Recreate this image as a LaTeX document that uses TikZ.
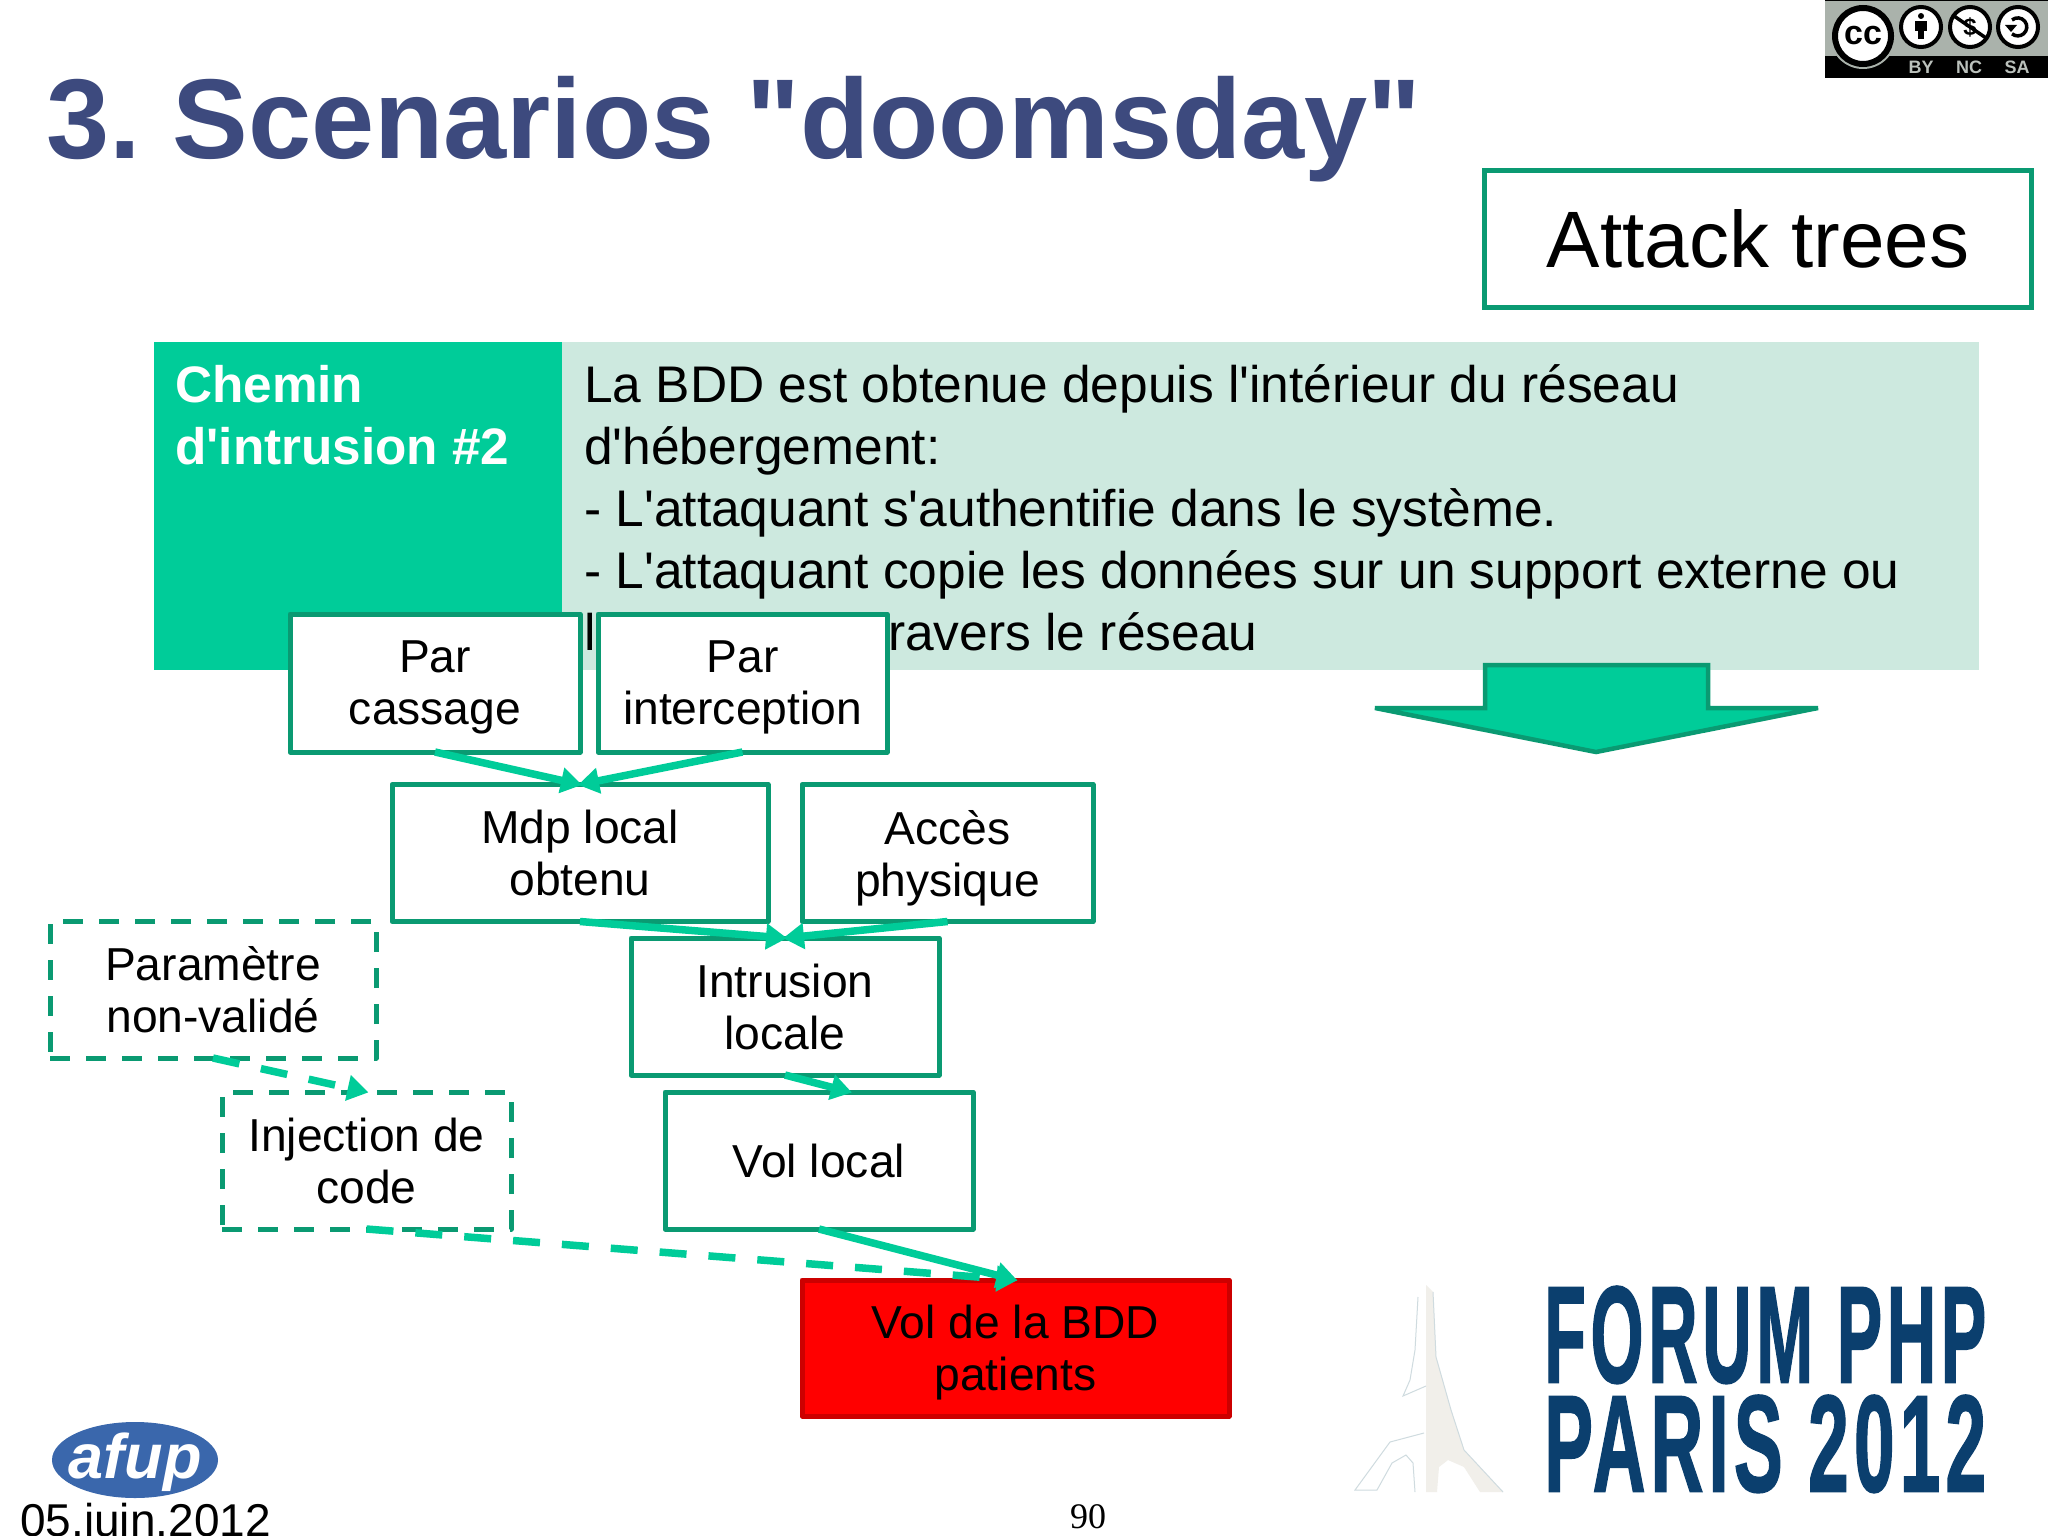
\documentclass[tikz,border=0pt]{standalone}
\usepackage{fontspec}
\usetikzlibrary{arrows.meta}
\setmainfont{Liberation Sans}
\newfontfamily\plainsans{Liberation Sans}
\newfontfamily\serifnum{Liberation Serif}
\newfontfamily\forumfont[BoldFeatures={FakeBold=1.5,LetterSpace=7}]{Liberation Sans}
\definecolor{titleblue}{HTML}{3D4A7E}
\definecolor{boxgreen}{HTML}{0A9A72}
\definecolor{arrowgreen}{HTML}{00CC99}
\definecolor{headgreen}{HTML}{00CC99}
\definecolor{palegreen}{HTML}{CDE9DF}
\definecolor{forumblue}{HTML}{0B3F6E}
\definecolor{towerfill}{HTML}{F1EFEA}
\definecolor{towerline}{HTML}{CFDBDF}
\definecolor{afupblue}{HTML}{3A67AC}
\definecolor{ccgrey}{HTML}{AAB2AB}
\tikzset{
  x=1pt,y=-1pt,
  treebox/.style={draw=boxgreen,line width=5pt,fill=white,outer sep=0pt,inner sep=0pt,align=center,
    font=\plainsans\fontsize{46.2}{52}\selectfont,line join=round},
  dashbox/.style={treebox,dash pattern=on 20pt off 16pt,fill=none},
  link/.style={draw=arrowgreen,line width=7.5pt,-{Triangle[length=21pt,width=25pt]},shorten >=-2pt},
  dashlink/.style={link,dash pattern=on 27pt off 22pt},
  tableline/.style={anchor=base west,inner sep=0pt,font=\plainsans\fontsize{51.5}{62}\selectfont},
  headline/.style={tableline,text=white,font=\plainsans\fontsize{51.3}{62}\selectfont\bfseries},
  ccring/.style={circle,draw=black,line width=4pt,fill=white,inner sep=0pt,outer sep=0pt},
  cclabel/.style={text=ccgrey!80!white,inner sep=0pt,font=\plainsans\fontsize{18}{18}\selectfont\bfseries},
}
\begin{document}
\frenchspacing
\begin{tikzpicture}
\useasboundingbox (0,0) rectangle (2048,1536);
\clip (0,0) rectangle (2048,1536);
\fill[white] (0,0) rectangle (2048,1536);

% title
\node[anchor=base west,inner sep=0pt,text=titleblue,font=\plainsans\fontsize{113.5}{114}\selectfont\bfseries] (title) at (46,159) {3. Scenarios "doomsday"};

% CC badge
\fill[ccgrey] (1825,0) rectangle (2048,56);
\fill[black] (1825,56) rectangle (2048,78);
\draw[black,line width=2pt] (1825,0) -- (2048,0);
\fill[ccgrey] (1863,36) circle (33);
\node[ccring,minimum size=56pt,line width=6pt,font=\plainsans\fontsize{34}{34}\selectfont\bfseries] (cc) at (1863,36) {cc};
\node[ccring,minimum size=40pt] (by) at (1921,27) {};
\fill[black] (1921,16) circle (3);
\fill[black] (1915,21) rectangle (1927,31);
\fill[black] (1918,31) rectangle (1924,39);
\node[ccring,minimum size=40pt,font=\plainsans\fontsize{24}{24}\selectfont\bfseries] (nc) at (1970,27) {\$};
\draw[black,line width=3.5pt] (1954,16) -- (1986,38);
\node[ccring,minimum size=40pt] (sa) at (2018,27) {};
\draw[black,line width=3.5pt] (2012,20) arc (-130:130:9);
\fill[black] (2005,25) -- (2017,25) -- (2011,32) -- cycle;
\node[cclabel] (bylab) at (1921,67) {BY};
\node[cclabel] (nclab) at (1969,67) {NC};
\node[cclabel] (salab) at (2017,67) {SA};

% attack trees
\node[draw=boxgreen,line width=5pt,outer sep=0pt,inner sep=0pt,minimum width=547pt,minimum height=137pt,font=\plainsans\fontsize{80}{80}\selectfont] (attack) at (1758,239) {Attack trees};

% table
\fill[headgreen] (154,342) rectangle (562,670);
\fill[palegreen] (562,342) rectangle (1979,670);
\node[headline] (h1) at (175,402) {Chemin};
\node[headline] (h2) at (175,464) {d'intrusion \#2};
\node[tableline] (t1) at (584,402) {La BDD est obtenue depuis l'intérieur du réseau};
\node[tableline] (t2) at (584,464) {d'hébergement:};
\node[tableline] (t3) at (584,526) {- L'attaquant s'authentifie dans le système.};
\node[tableline] (t4) at (584,588) {- L'attaquant copie les données sur un support externe ou};
\node[tableline] (t5a) at (584,650) {l};
\node[tableline] (t5b) at (888,650) {ravers le réseau};

% big arrow
\draw[draw=boxgreen,fill=arrowgreen,line width=4.5pt,line join=miter]
  (1485,665) -- (1708,665) -- (1708,708) -- (1818,708) -- (1596,752) -- (1375,708) -- (1485,708) -- cycle;

% tree boxes
\node[treebox,minimum width=290pt,minimum height=138pt] (cassage) at (435,683) {Par\\\smash{cassage}};
\node[treebox,minimum width=289pt,minimum height=138pt] (intercept) at (742.5,683) {Par\\\smash{interception}};
\node[treebox,minimum width=376pt,minimum height=137pt] (mdp) at (580,853) {Mdp local\\obtenu};
\node[treebox,minimum width=291pt,minimum height=137pt] (acces) at (947.5,853) {Accès\\\smash{physique}};
\node[treebox,minimum width=308pt,minimum height=137pt] (intrusion) at (785,1006.5) {Intrusion\\locale};
\node[treebox,minimum width=308pt,minimum height=137pt] (vol) at (819,1160.5) {Vol local};
\node[dashbox,minimum width=326pt,minimum height=137pt] (param) at (213,989.5) {Paramètre\\non-validé};
\node[dashbox,minimum width=289pt,minimum height=137pt] (inject) at (366.5,1160.5) {Injection de\\code};
\node[treebox,draw=red!80!black,fill=red,minimum width=427pt,minimum height=136pt] (bdd) at (1015.5,1348) {Vol de la BDD\\\smash{patients}};
\coordinate (volin) at (850,1092);

% connectors
\draw[link] (cassage.south) -- (mdp.north);
\draw[link] (intercept.south) -- (mdp.north);
\draw[link] (mdp.south) -- (intrusion.north);
\draw[link] (acces.south) -- (intrusion.north);
\draw[link] (intrusion.south) -- (volin);
\draw[link] (vol.south) -- (bdd.north);
\draw[dashlink] (param.south) -- (inject.north);
\draw[dashlink] (inject.south) -- (bdd.north);

% afup logo
\fill[afupblue] (135,1460) ellipse [x radius=83,y radius=38];
\node[text=white,inner sep=0pt,font=\plainsans\fontsize{63}{63}\selectfont\bfseries\itshape] (afup) at (135,1462) {afup};
\node[anchor=base west,inner sep=0pt,font=\plainsans\fontsize{46}{46}\selectfont] (date) at (20,1536) {05.juin.2012};
\node[inner sep=0pt,font=\serifnum\fontsize{36}{36}\selectfont] (page) at (1088,1517) {90};

% forum logo
\fill[towerfill] (1426,1285) -- (1433,1292) -- (1436,1357) -- (1451,1410) -- (1464,1450) -- (1503,1492) -- (1480,1492) -- (1464,1467) -- (1448,1460) -- (1439,1467) -- (1437,1492) -- (1426,1492) -- cycle;
\draw[towerline,line width=1pt] (1418,1297) -- (1415,1350) -- (1410,1380) -- (1403,1396) -- (1426,1386);
\draw[towerline,line width=1pt] (1424,1433) -- (1390,1442) -- (1355,1490) -- (1377,1490) -- (1392,1463) -- (1406,1455) -- (1413,1463) -- (1415,1492);
\draw[towerline,line width=1pt] (1433,1292) -- (1436,1357) -- (1451,1410) -- (1464,1450) -- (1503,1492);
\node[anchor=north west,inner sep=0pt,text=forumblue] (forum1) at (1544,1286) {\resizebox{442pt}{96pt}{\forumfont\bfseries FORUM PHP}};
\node[anchor=north west,inner sep=0pt,text=forumblue] (forum2) at (1544,1395) {\resizebox{442pt}{96pt}{\forumfont\bfseries PARIS 2012}};
\end{tikzpicture}
\end{document}
